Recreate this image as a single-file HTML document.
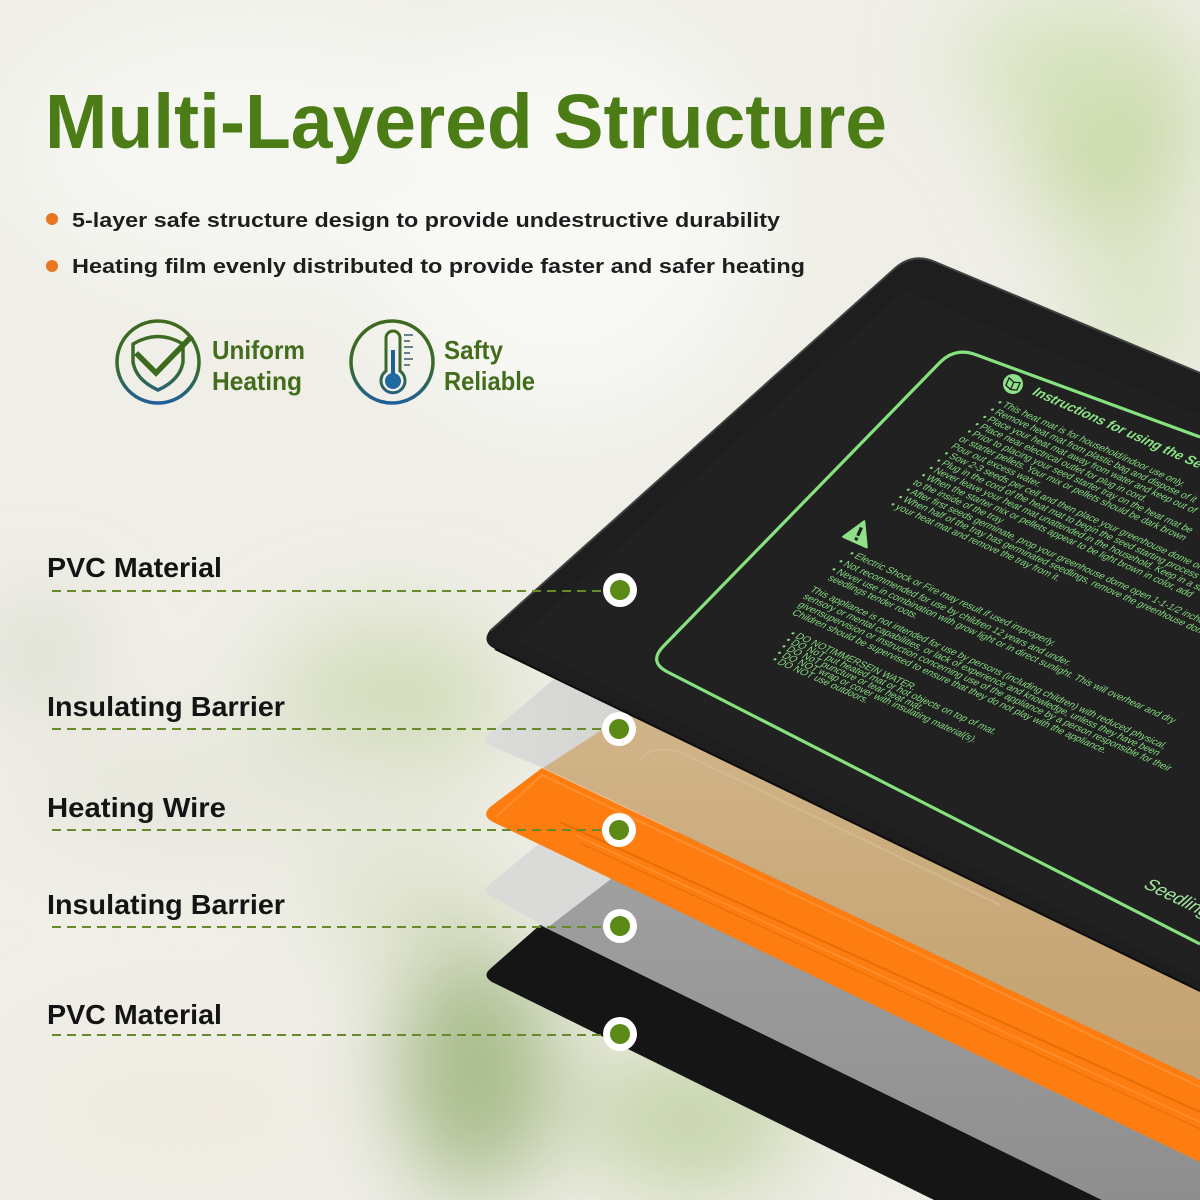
<!DOCTYPE html>
<html>
<head>
<meta charset="utf-8">
<style>
html,body{margin:0;padding:0;width:1200px;height:1200px;overflow:hidden;background:#efeee7;}
#wrap{position:relative;width:1200px;height:1200px;overflow:hidden;}
svg{display:block;overflow:hidden;}
</style>
</head>
<body>
<div id="wrap">
<svg width="1200" height="1200" viewBox="0 0 1200 1200" xmlns="http://www.w3.org/2000/svg">
<defs>
  <filter id="blur" filterUnits="userSpaceOnUse" x="-300" y="-300" width="1800" height="1800">
    <feGaussianBlur stdDeviation="45"/>
  </filter>
  <linearGradient id="ring" gradientUnits="userSpaceOnUse" x1="0" y1="320" x2="0" y2="405">
    <stop offset="0" stop-color="#3d6a1d"/>
    <stop offset="0.55" stop-color="#3a6a2c"/>
    <stop offset="1" stop-color="#1e5ea0"/>
  </linearGradient>
  <linearGradient id="tanG" x1="0" y1="0" x2="0" y2="1">
    <stop offset="0" stop-color="#d2b68c"/>
    <stop offset="0.6" stop-color="#c9a979"/>
    <stop offset="1" stop-color="#c4a271"/>
  </linearGradient>
  <linearGradient id="grayG" x1="0" y1="0" x2="0" y2="1">
    <stop offset="0" stop-color="#a3a3a3"/>
    <stop offset="1" stop-color="#8e8e8e"/>
  </linearGradient>
  <linearGradient id="lg1" x1="0" y1="0" x2="1" y2="0">
    <stop offset="0" stop-color="#dcdcda"/>
    <stop offset="1" stop-color="#cfcfcc"/>
  </linearGradient>
  <clipPath id="matclip">
    <path d="M 495,649 Q 481,642 490,630 L 893,269 Q 912,251 935,261 L 1200,372 L 1200,991 Z"/>
  </clipPath>
</defs>

<!-- background -->
<rect x="0" y="0" width="1200" height="1200" fill="#efeee7"/>
<g filter="url(#blur)">
  <ellipse cx="250" cy="150" rx="240" ry="140" fill="#f6f6f2"/>
  <ellipse cx="560" cy="220" rx="200" ry="200" fill="#f8f8f5"/>
  <ellipse cx="1110" cy="120" rx="90" ry="120" fill="#cbdaa9"/>
  <ellipse cx="1060" cy="60" rx="100" ry="60" fill="#d6e3bd"/>
  <ellipse cx="1140" cy="300" rx="60" ry="90" fill="#d9e4c4"/>
  <ellipse cx="40" cy="655" rx="40" ry="50" fill="#d4d7c8"/>
  <ellipse cx="390" cy="700" rx="120" ry="80" fill="#d3ddbb"/>
  <ellipse cx="220" cy="790" rx="200" ry="60" fill="#e7e7dd"/>
  <ellipse cx="420" cy="905" rx="100" ry="60" fill="#dde2cb"/>
  <ellipse cx="475" cy="1070" rx="80" ry="125" fill="#a7bc89"/>
  <ellipse cx="690" cy="1120" rx="110" ry="75" fill="#c6d4aa"/>
  <ellipse cx="180" cy="1110" rx="170" ry="85" fill="#efebe2"/>
</g>

<!-- Title -->
<text x="45" y="148" font-family="Liberation Sans, sans-serif" font-weight="bold" font-size="77" fill="#4b7c16" textLength="842" lengthAdjust="spacingAndGlyphs">Multi-Layered Structure</text>

<!-- Bullets -->
<circle cx="52" cy="219" r="6" fill="#e8761e"/>
<text x="72" y="227" font-family="Liberation Sans, sans-serif" font-weight="bold" font-size="20" fill="#1e1e1e" textLength="708" lengthAdjust="spacingAndGlyphs">5-layer safe structure design to provide undestructive durability</text>
<circle cx="52" cy="266" r="6" fill="#e8761e"/>
<text x="72" y="273" font-family="Liberation Sans, sans-serif" font-weight="bold" font-size="20" fill="#1e1e1e" textLength="733" lengthAdjust="spacingAndGlyphs">Heating film evenly distributed to provide faster and safer heating</text>

<!-- Icon 1 -->
<circle cx="158" cy="362" r="41" fill="none" stroke="url(#ring)" stroke-width="3.5"/>
<path d="M 133,344 Q 158,329 183,344 L 183,362 Q 180,380 158,390 Q 136,380 133,362 Z" fill="none" stroke="url(#ring)" stroke-width="3.5" stroke-linejoin="round"/>
<path d="M 138,355 L 156,373 L 190,338" fill="none" stroke="#3d6a1d" stroke-width="5.5" stroke-linecap="square" stroke-linejoin="miter"/>
<text x="212" y="359" font-family="Liberation Sans, sans-serif" font-weight="bold" font-size="26" fill="#436d1c" textLength="93" lengthAdjust="spacingAndGlyphs">Uniform</text>
<text x="212" y="390" font-family="Liberation Sans, sans-serif" font-weight="bold" font-size="26" fill="#436d1c" textLength="90" lengthAdjust="spacingAndGlyphs">Heating</text>

<!-- Icon 2 -->
<circle cx="392" cy="362" r="41" fill="none" stroke="url(#ring)" stroke-width="3.5"/>
<path d="M 386,371 L 386,338 A 7,7 0 0 1 400,338 L 400,371 A 12,12 0 1 1 386,371 Z" fill="none" stroke="url(#ring)" stroke-width="3"/>
<line x1="393" y1="350" x2="393" y2="378" stroke="#1f5f98" stroke-width="4"/>
<circle cx="393" cy="381" r="8" fill="#1f6aa0"/>
<g stroke="#3a5a6a" stroke-width="1.5">
  <line x1="404" y1="335" x2="413" y2="335"/>
  <line x1="404" y1="341" x2="410" y2="341"/>
  <line x1="404" y1="347" x2="413" y2="347"/>
  <line x1="404" y1="353" x2="410" y2="353"/>
  <line x1="404" y1="359" x2="413" y2="359"/>
  <line x1="404" y1="365" x2="410" y2="365"/>
</g>
<text x="444" y="359" font-family="Liberation Sans, sans-serif" font-weight="bold" font-size="26" fill="#436d1c" textLength="59" lengthAdjust="spacingAndGlyphs">Safty</text>
<text x="444" y="390" font-family="Liberation Sans, sans-serif" font-weight="bold" font-size="26" fill="#436d1c" textLength="91" lengthAdjust="spacingAndGlyphs">Reliable</text>

<!-- Layers (back to front) -->
<path d="M 492,982 Q 482,976 490,969 L 540,925 L 1102,1200 L 934,1200 Z" fill="#151515"/>
<path d="M 540,925 L 700,815 L 1200,1052 L 1200,1200 L 1102,1200 Z" fill="url(#grayG)"/>
<path d="M 491,896 Q 482,891 489,885 L 560,826 L 645,853 L 547,928 Z" fill="#dadad8"/>
<path d="M 493,822 Q 481,816 490,807 L 542,768 L 1200,1080 L 1200,1162 Z" fill="#fd7d10"/>
<path d="M 497,816 L 542,775 L 1200,1087" fill="none" stroke="#ff9b45" stroke-width="2" opacity="0.6"/>
<line x1="560" y1="822" x2="1200" y2="1112" stroke="#e36a06" stroke-width="2" opacity="0.8"/>
<line x1="575" y1="835" x2="1200" y2="1122" stroke="#ff9a40" stroke-width="1.5" opacity="0.7"/>
<line x1="580" y1="843" x2="1200" y2="1129" stroke="#e36a06" stroke-width="1.5" opacity="0.6"/>
<path d="M 491,746 Q 481,741 489,734 L 560,674 L 700,705 L 543,768 Z" fill="url(#lg1)"/>
<path d="M 543,768 L 680,679 L 1200,927 L 1200,1080 Z" fill="url(#tanG)"/>
<path d="M 640,760 Q 650,745 680,752 L 1000,905" fill="none" stroke="#d8bf98" stroke-width="2" opacity="0.6"/>

<!-- top black mat -->
<path d="M 495,649 Q 481,642 490,630 L 893,269 Q 912,251 935,261 L 1200,372 L 1200,991 Z" fill="#1e1e1e"/>
<path d="M 515,640 L 905,290 L 1200,415 L 1200,980 Z" fill="#212121" clip-path="url(#matclip)"/>
<path d="M 490,631 L 893,270 Q 912,252 935,262 L 1200,373" fill="none" stroke="#4a4a4a" stroke-width="2" opacity="0.8"/>
<path d="M 495,649 L 1200,991" fill="none" stroke="#0c0c0c" stroke-width="2"/>

<g clip-path="url(#matclip)">
  <path d="M 1200,437 L 975.7,354.6 Q 955,347 939.6,362.8 L 663.4,646.2 Q 648,662 667.6,672 L 1200,944" fill="none" stroke="#86e27f" stroke-width="3.2"/>

  <circle cx="1013" cy="384" r="10" fill="#8ee089"/>
  <g transform="translate(1013,384) rotate(24)" fill="none" stroke="#1e1e1e" stroke-width="1.3">
    <path d="M -6,-4 L 0,-2 L 6,-4 L 6,4 L 0,6 L -6,4 Z M 0,-2 L 0,6"/>
  </g>

  <text transform="translate(1031,394) rotate(24) skewX(-22)" font-family="Liberation Sans, sans-serif" font-weight="bold" font-size="13.5" fill="#8de388">Instructions for using the Se</text>

  <g font-family="Liberation Sans, sans-serif" font-size="9.6" fill="#86db82">
    <text transform="translate(996,404) rotate(24) skewX(-22)">• This heat mat is for household/indoor use only.</text>
    <text transform="translate(988.4,411.3) rotate(24) skewX(-22)">• Remove heat mat from plastic bag and dispose of it</text>
    <text transform="translate(980.7,418.6) rotate(24) skewX(-22)">• Place your heat mat away from water and keep out of</text>
    <text transform="translate(973.1,425.9) rotate(24) skewX(-22)">• Place near electrical outlet for plug in cord.</text>
    <text transform="translate(965.4,433.1) rotate(24) skewX(-22)">• Prior to placing your seed starter tray on the heat mat be</text>
    <text transform="translate(957.8,440.4) rotate(24) skewX(-22)">or starter pellets. Your mix or pellets should be dark brown</text>
    <text transform="translate(950.1,447.7) rotate(24) skewX(-22)">Pour out excess water.</text>
    <text transform="translate(942.5,455) rotate(24) skewX(-22)">• Sow 2-3 seeds per cell and then place your greenhouse dome on</text>
    <text transform="translate(934.9,462.3) rotate(24) skewX(-22)">• Plug in the cord of the heat mat to begin the seed starting process</text>
    <text transform="translate(927.2,469.6) rotate(24) skewX(-22)">• Never leave your heat mat unattended in the household. Keep in a safe</text>
    <text transform="translate(919.6,476.9) rotate(24) skewX(-22)">• When the starter mix or pellets appear to be light brown in color, add</text>
    <text transform="translate(911.9,484.1) rotate(24) skewX(-22)">to the inside of the tray</text>
    <text transform="translate(904.3,491.4) rotate(24) skewX(-22)">• After first seeds germinate, prop your greenhouse dome open 1-1-1/2 inches</text>
    <text transform="translate(896.6,498.7) rotate(24) skewX(-22)">• When half of the tray has germinated seedlings, remove the greenhouse dome</text>
    <text transform="translate(889,506) rotate(24) skewX(-22)">• your heat mat and remove the tray from it.</text>

    <text transform="translate(848,555) rotate(24) skewX(-22)">• Electric Shock or Fire may result if used improperly.</text>
    <text transform="translate(837,563) rotate(24) skewX(-22)">• Not recommended for use by children 12 years and under.</text>
    <text transform="translate(830,571) rotate(24) skewX(-22)">• Never use in combination with grow light or in direct sunlight. This will overhear and dry</text>
    <text transform="translate(827,579.5) rotate(24) skewX(-22)">seedlings tender roots.</text>
    <text transform="translate(809,591) rotate(24) skewX(-22)">This appliance is not intended for use by persons (including children) with reduced physical,</text>
    <text transform="translate(802,598) rotate(24) skewX(-22)">sensory or mental capabilities, or lack of experience and knowledge, unless they have been</text>
    <text transform="translate(797,606) rotate(24) skewX(-22)">givensupervision or instruction concerning use of the appliance by a person responsible for their</text>
    <text transform="translate(791,614) rotate(24) skewX(-22)">Children should be supervised to ensure that they do not play with the appliance.</text>
    <text transform="translate(789,635) rotate(24) skewX(-22)">• DO NOTIMMERSEIN WATER.</text>
    <text transform="translate(784.5,641.5) rotate(24) skewX(-22)">• DO NoT put heated mat or hot objects on top of mat.</text>
    <text transform="translate(780,648) rotate(24) skewX(-22)">• DO NoT puncture or tear heat mat.</text>
    <text transform="translate(775.5,654.5) rotate(24) skewX(-22)">• DO NOT wrap or cover with insulating material(s).</text>
    <text transform="translate(771,661) rotate(24) skewX(-22)">• DO NOT use outdoors.</text>
  </g>

  <g transform="translate(859,533) rotate(24)">
    <polygon points="0,-13 13,10 -13,10" fill="#8ee089" stroke="#8ee089" stroke-width="2" stroke-linejoin="round"/>
    <rect x="-1.6" y="-6" width="3.2" height="9" fill="#1e1e1e"/>
    <rect x="-1.6" y="5" width="3.2" height="3" fill="#1e1e1e"/>
  </g>

  <text transform="translate(1142,887) rotate(26) skewX(-22)" font-family="Liberation Sans, sans-serif" font-size="18" fill="#a2e39d">Seedling</text>
</g>

<!-- dashed leader lines -->
<g stroke="#678a2b" stroke-width="2" stroke-dasharray="9 6">
  <line x1="52" y1="591" x2="605" y2="591"/>
  <line x1="52" y1="729" x2="605" y2="729"/>
  <line x1="52" y1="830" x2="605" y2="830"/>
  <line x1="52" y1="927" x2="605" y2="927"/>
  <line x1="52" y1="1035" x2="605" y2="1035"/>
</g>

<!-- dots -->
<g>
  <circle cx="620" cy="590" r="17" fill="#ffffff"/><circle cx="620" cy="590" r="10" fill="#5b8a16"/>
  <circle cx="619" cy="729" r="17" fill="#ffffff"/><circle cx="619" cy="729" r="10" fill="#5b8a16"/>
  <circle cx="619" cy="830" r="17" fill="#ffffff"/><circle cx="619" cy="830" r="10" fill="#5b8a16"/>
  <circle cx="620" cy="926" r="17" fill="#ffffff"/><circle cx="620" cy="926" r="10" fill="#5b8a16"/>
  <circle cx="620" cy="1034" r="17" fill="#ffffff"/><circle cx="620" cy="1034" r="10" fill="#5b8a16"/>
</g>

<!-- labels -->
<g font-family="Liberation Sans, sans-serif" font-weight="bold" font-size="28" fill="#141414">
  <text x="47" y="577" textLength="175" lengthAdjust="spacingAndGlyphs">PVC Material</text>
  <text x="47" y="716" textLength="238" lengthAdjust="spacingAndGlyphs">Insulating Barrier</text>
  <text x="47" y="817" textLength="179" lengthAdjust="spacingAndGlyphs">Heating Wire</text>
  <text x="47" y="914" textLength="238" lengthAdjust="spacingAndGlyphs">Insulating Barrier</text>
  <text x="47" y="1024" textLength="175" lengthAdjust="spacingAndGlyphs">PVC Material</text>
</g>
</svg>
</div>
</body>
</html>
